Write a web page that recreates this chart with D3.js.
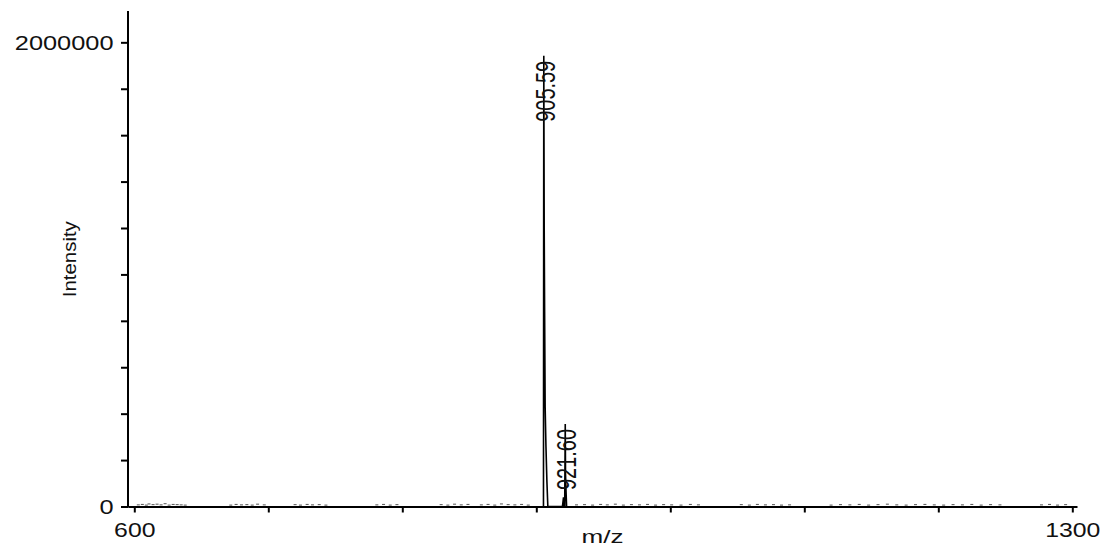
<!DOCTYPE html>
<html>
<head>
<meta charset="utf-8">
<script src="https://cdn.jsdelivr.net/npm/d3@7"></script>
<style>
  html, body { margin: 0; padding: 0; background: #fff; }
  svg { display: block; }
  text { font-family: "Liberation Sans", Arial, sans-serif; fill: #111; }
</style>
</head>
<body>
<svg id="chart" width="1112" height="551"></svg>
<script>
// ---- data ----
const xTickValues = [600, 700, 800, 900, 1000, 1100, 1200, 1300];
const xTickLabels = ["600", "", "", "", "", "", "", "1300"];
const yTickValues = [0, 200000, 400000, 600000, 800000, 1000000, 1200000, 1400000, 1600000, 1800000, 2000000];
const yTickLabels = ["0", "", "", "", "", "", "", "", "", "", "2000000"];
const xTitle = "m/z";
const yTitle = "Intensity";

// annotated peaks
const peakMz = [905.59, 921.60];
const peakIntensity = [1942000, 355600];
const peakLabels = ["905.59", "921.60"];

// profile of the two main peaks
const profileMz = [904.8, 905.35, 905.59, 905.9, 906.2, 906.6, 907.2, 907.9, 908.6,
                   919.5, 920.3, 920.7, 921.2, 921.60, 921.8, 922.1, 922.6, 923.2];
const profileIntensity = [0, 0, 1942000, 1190000, 840000, 430000, 260000, 110000, 0,
                          0, 40000, 0, 0, 355600, 140000, 80000, 0, 0];

// baseline noise
const noiseMz = [603, 606, 609, 611, 614, 617, 620, 623, 626, 629, 632, 635, 638,
                 672, 676, 680, 684, 688, 692, 697,
                 720, 724, 729, 733, 738, 743,
                 781, 786, 791, 796,
                 829, 834, 839, 844, 849,
                 859, 864, 869, 874, 879, 884, 889, 894,
                 930, 936, 942, 948, 953, 959, 965, 971, 977, 983, 989, 995, 1001, 1008, 1015, 1021,
                 1053, 1059, 1065, 1071, 1077, 1083, 1089,
                 1120, 1127, 1134, 1141, 1148, 1155, 1162, 1169, 1176, 1183, 1190, 1197, 1204, 1211, 1218, 1225, 1232, 1239, 1246,
                 1277, 1283, 1289, 1295];
const noiseIntensity = [7000, 9000, 6000, 11000, 8000, 10000, 7000, 12000, 6000, 9000, 8000, 7000, 6000,
                        6000, 9000, 7000, 8000, 6000, 10000, 7000,
                        8000, 6000, 9000, 7000, 8000, 6000,
                        7000, 9000, 6000, 8000,
                        8000, 6000, 10000, 7000, 9000,
                        7000, 9000, 6000, 11000, 8000, 7000, 9000, 6000,
                        7000, 8000, 6000, 9000, 7000, 10000, 6000, 8000, 7000, 9000, 6000, 8000, 7000, 6000, 9000, 7000,
                        8000, 6000, 9000, 7000, 8000, 6000, 7000,
                        6000, 8000, 7000, 9000, 6000, 8000, 10000, 7000, 6000, 8000, 9000, 7000, 6000, 8000, 7000, 9000, 6000, 8000, 7000,
                        7000, 9000, 6000, 8000];

// ---- layout ----
const svg = d3.select("#chart");
const x = d3.scaleLinear().domain([595.3, 1303.5]).range([128, 1077]);
const y = d3.scaleLinear().domain([0, 2135000]).range([506.5, 11]);

const charW = 14.1;

// ---- spectrum ----
const noiseG = svg.append("g");
noiseMz.forEach((m, i) => {
  noiseG.append("line")
    .attr("x1", x(m) - 1.5).attr("x2", x(m) + 1.5)
    .attr("y1", y(noiseIntensity[i])).attr("y2", y(noiseIntensity[i]))
    .attr("stroke", "#555").attr("stroke-width", 1);
});

const profile = profileMz.map((m, i) => [m, profileIntensity[i]]);
svg.append("path")
  .datum(profile)
  .attr("fill", "none")
  .attr("stroke", "#000")
  .attr("stroke-width", 1.6)
  .attr("d", d3.line().x(d => x(d[0])).y(d => y(d[1])));

// ---- axes ----
const xAxis = svg.append("g")
  .attr("transform", `translate(0,${y(0)})`)
  .call(d3.axisBottom(x).tickValues(xTickValues)
    .tickFormat((d, i) => xTickLabels[i]).tickSize(6).tickSizeOuter(0));
xAxis.select(".domain").attr("stroke", "#000").attr("stroke-width", 2);
xAxis.selectAll(".tick line").attr("stroke", "#000").attr("stroke-width", 2);
xAxis.selectAll(".tick text")
  .attr("y", 30.5).attr("dy", 0)
  .attr("font-size", 20)
  .attr("fill", "#111")
  .each(function () {
    const t = d3.select(this).text();
    if (t.length) d3.select(this).attr("textLength", t.length * 13.8).attr("lengthAdjust", "spacingAndGlyphs");
  });

const yAxis = svg.append("g")
  .attr("transform", `translate(128,0)`)
  .call(d3.axisLeft(y).tickValues(yTickValues)
    .tickFormat((d, i) => yTickLabels[i]).tickSize(7).tickPadding(7.5).tickSizeOuter(0));
yAxis.select(".domain").attr("stroke", "#000").attr("stroke-width", 2);
yAxis.selectAll(".tick line").attr("stroke", "#000").attr("stroke-width", 2);
yAxis.selectAll(".tick text")
  .attr("font-size", 20)
  .attr("dy", "0.35em")
  .attr("fill", "#111")
  .each(function () {
    const t = d3.select(this).text();
    if (t.length) d3.select(this).attr("textLength", t.length * charW).attr("lengthAdjust", "spacingAndGlyphs");
  });
yAxis.select(".domain").attr("d", `M0,${y(0) + 1}V${y.range()[1]}`);

// ---- titles ----
svg.append("text")
  .attr("x", (x.range()[0] + x.range()[1]) / 2)
  .attr("y", 543)
  .attr("text-anchor", "middle")
  .attr("font-size", 19)
  .attr("textLength", 42).attr("lengthAdjust", "spacingAndGlyphs")
  .text(xTitle);

svg.append("text")
  .attr("transform", "translate(75.5,259.2) rotate(-90)")
  .attr("text-anchor", "middle")
  .attr("font-size", 17.5)
  .attr("textLength", 76).attr("lengthAdjust", "spacingAndGlyphs")
  .text(yTitle);

// ---- peak labels ----
peakMz.forEach((m, i) => {
  svg.append("text")
    .attr("transform", `translate(${x(m) + 11},${y(peakIntensity[i]) + 5}) rotate(-90)`)
    .attr("text-anchor", "end")
    .attr("font-size", 27.5)
    .attr("textLength", 61).attr("lengthAdjust", "spacingAndGlyphs")
    .text(peakLabels[i]);
});
</script>
</body>
</html>
